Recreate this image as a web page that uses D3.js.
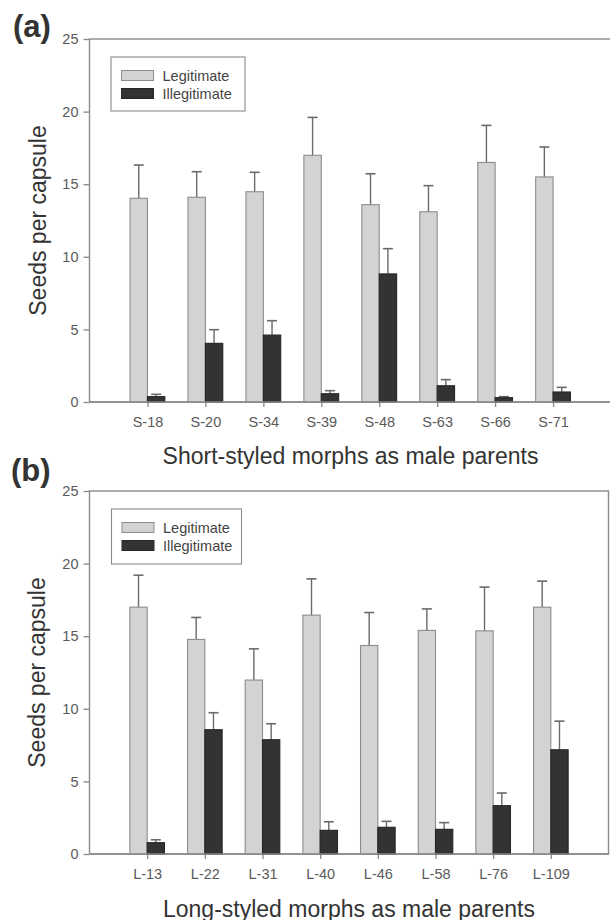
<!DOCTYPE html>
<html>
<head>
<meta charset="utf-8">
<script src="https://cdn.jsdelivr.net/npm/d3@7/dist/d3.min.js"></script>
<style>
  html, body { margin: 0; padding: 0; background: #fff; }
  svg { display: block; }
  text { font-family: "Liberation Sans", Arial, sans-serif; }
</style>
</head>
<body>
<svg id="chart" width="610" height="920"></svg>
<script>
// Short-styled male parents (panel a)
const categoriesA = ["S-18", "S-20", "S-34", "S-39", "S-48", "S-63", "S-66", "S-71"];
const legitA      = [14.03, 14.10, 14.48, 16.99, 13.59, 13.10, 16.50, 15.50];
const legitSeA    = [2.29, 1.76, 1.34, 2.61, 2.13, 1.80, 2.55, 2.06];
const illegitA    = [0.37, 4.04, 4.61, 0.57, 8.82, 1.12, 0.30, 0.69];
const illegitSeA  = [0.16, 0.94, 0.99, 0.21, 1.74, 0.42, 0.07, 0.32];

// Long-styled male parents (panel b)
const categoriesB = ["L-13", "L-22", "L-31", "L-40", "L-46", "L-58", "L-76", "L-109"];
const legitB      = [17.00, 14.78, 11.98, 16.45, 14.36, 15.40, 15.37, 17.00];
const legitSeB    = [2.20, 1.51, 2.15, 2.50, 2.27, 1.48, 3.01, 1.79];
const illegitB    = [0.78, 8.56, 7.87, 1.63, 1.84, 1.70, 3.33, 7.18];
const illegitSeB  = [0.20, 1.17, 1.10, 0.59, 0.41, 0.46, 0.87, 1.97];

const yTicks = [0, 5, 10, 15, 20, 25];
const seriesNames = ["Legitimate", "Illegitimate"];

const svg = d3.select("#chart");
const LEGIT_FILL = "#d3d3d3", LEGIT_STROKE = "#8c8c8c";
const ILLEG_FILL = "#333333", ILLEG_STROKE = "#262626";
const AXIS = "#8a8a8a";

function panel(cfg) {
  const g = svg.append("g");
  const x = d3.scaleLinear().domain([0, cfg.cats.length + 1]).range([cfg.left, cfg.right]);
  const y = d3.scaleLinear().domain([0, 25]).range([cfg.bottom, cfg.top]);
  const step = x(1) - x(0);
  const bw = step * 0.3;

  // frame
  g.append("rect")
    .attr("x", cfg.left).attr("y", cfg.top)
    .attr("width", cfg.right - cfg.left).attr("height", cfg.bottom - cfg.top)
    .attr("fill", "none").attr("stroke", AXIS).attr("stroke-width", 1.4);

  // y axis
  const yAxis = d3.axisLeft(y).tickValues(yTicks).tickSize(6).tickPadding(5);
  const ya = g.append("g").attr("transform", `translate(${cfg.left},0)`).call(yAxis);
  ya.select(".domain").remove();
  ya.selectAll("line").attr("stroke", AXIS).attr("stroke-width", 1.3);
  ya.selectAll("text").attr("fill", "#5a5a5a").style("font-size", "14.5px");

  // x axis
  const xAxis = d3.axisBottom(x).tickValues(d3.range(1, cfg.cats.length + 1))
    .tickFormat(i => cfg.cats[i - 1]).tickSize(5).tickPadding(10);
  const xa = g.append("g").attr("transform", `translate(0,${cfg.bottom})`).call(xAxis);
  xa.select(".domain").remove();
  xa.selectAll("line").attr("stroke", AXIS).attr("stroke-width", 1.3);
  xa.selectAll("text").attr("fill", "#5a5a5a").style("font-size", "14.5px");

  const series = [
    { vals: cfg.legit, se: cfg.legitSe, off: -bw, fill: LEGIT_FILL, stroke: LEGIT_STROKE },
    { vals: cfg.illeg, se: cfg.illegSe, off: 0, fill: ILLEG_FILL, stroke: ILLEG_STROKE }
  ];

  series.forEach(s => {
    const data = s.vals.map((v, i) => ({ v, se: s.se[i], cx: x(i + 1) + s.off + bw / 2 }));
    // error bars (upper only)
    g.selectAll(null).data(data).enter().append("line")
      .attr("x1", d => d.cx).attr("x2", d => d.cx)
      .attr("y1", d => y(d.v)).attr("y2", d => y(d.v + d.se))
      .attr("stroke", "#6a6a6a").attr("stroke-width", 1.4);
    g.selectAll(null).data(data).enter().append("line")
      .attr("x1", d => d.cx - 5).attr("x2", d => d.cx + 5)
      .attr("y1", d => y(d.v + d.se)).attr("y2", d => y(d.v + d.se))
      .attr("stroke", "#6a6a6a").attr("stroke-width", 1.6);
    // bars
    g.selectAll(null).data(data).enter().append("rect")
      .attr("x", d => d.cx - bw / 2).attr("width", bw)
      .attr("y", d => y(d.v)).attr("height", d => y(0) - y(d.v))
      .attr("fill", s.fill).attr("stroke", s.stroke).attr("stroke-width", 1.1);
  });

  // baseline redrawn over bars
  g.append("line").attr("x1", cfg.left).attr("x2", cfg.right)
    .attr("y1", cfg.bottom).attr("y2", cfg.bottom)
    .attr("stroke", AXIS).attr("stroke-width", 1.4);

  // legend
  const L = cfg.legend;
  g.append("rect").attr("x", L.x).attr("y", L.y).attr("width", L.w).attr("height", L.h)
    .attr("fill", "#fff").attr("stroke", AXIS).attr("stroke-width", 1.1);
  const swatch = [
    { fill: LEGIT_FILL, stroke: LEGIT_STROKE },
    { fill: ILLEG_FILL, stroke: ILLEG_STROKE }
  ];
  seriesNames.forEach((name, i) => {
    const yy = L.y + 13.5 + i * 18;
    g.append("rect").attr("x", L.x + 10.5).attr("y", yy).attr("width", 32).attr("height", 10)
      .attr("fill", swatch[i].fill).attr("stroke", swatch[i].stroke).attr("stroke-width", 1);
    g.append("text").attr("x", L.x + 51.5).attr("y", yy + 10)
      .attr("fill", "#444").style("font-size", "14.5px").text(name);
  });

  // panel letter
  g.append("text").attr("x", cfg.letterX).attr("y", cfg.letterY)
    .attr("fill", "#333").style("font-size", "31px").style("font-weight", "bold")
    .text(cfg.letter);

  // axis titles
  g.append("text")
    .attr("transform", `translate(${cfg.yTitleX},${(cfg.top + cfg.bottom) / 2}) rotate(-90)`)
    .attr("text-anchor", "middle").attr("fill", "#333").style("font-size", "23px")
    .text("Seeds per capsule");
  g.append("text")
    .attr("x", cfg.xTitleCx).attr("y", cfg.xTitleY)
    .attr("text-anchor", "middle").attr("fill", "#333").style("font-size", "23px")
    .text(cfg.xTitle);
}

panel({
  cats: categoriesA, legit: legitA, legitSe: legitSeA, illeg: illegitA, illegSe: illegitSeA,
  left: 89.5, right: 611, top: 39, bottom: 402,
  legend: { x: 111, y: 57, w: 134, h: 54 },
  letter: "(a)", letterX: 13, letterY: 37,
  yTitleX: 46, xTitle: "Short-styled morphs as male parents", xTitleCx: 350.5, xTitleY: 463.5
});

panel({
  cats: categoriesB, legit: legitB, legitSe: legitSeB, illeg: illegitB, illegSe: illegitSeB,
  left: 89.5, right: 608.5, top: 491, bottom: 854,
  legend: { x: 111.5, y: 509, w: 130, h: 55 },
  letter: "(b)", letterX: 11, letterY: 481,
  yTitleX: 45, xTitle: "Long-styled morphs as male parents", xTitleCx: 349, xTitleY: 916.5
});
</script>
</body>
</html>
